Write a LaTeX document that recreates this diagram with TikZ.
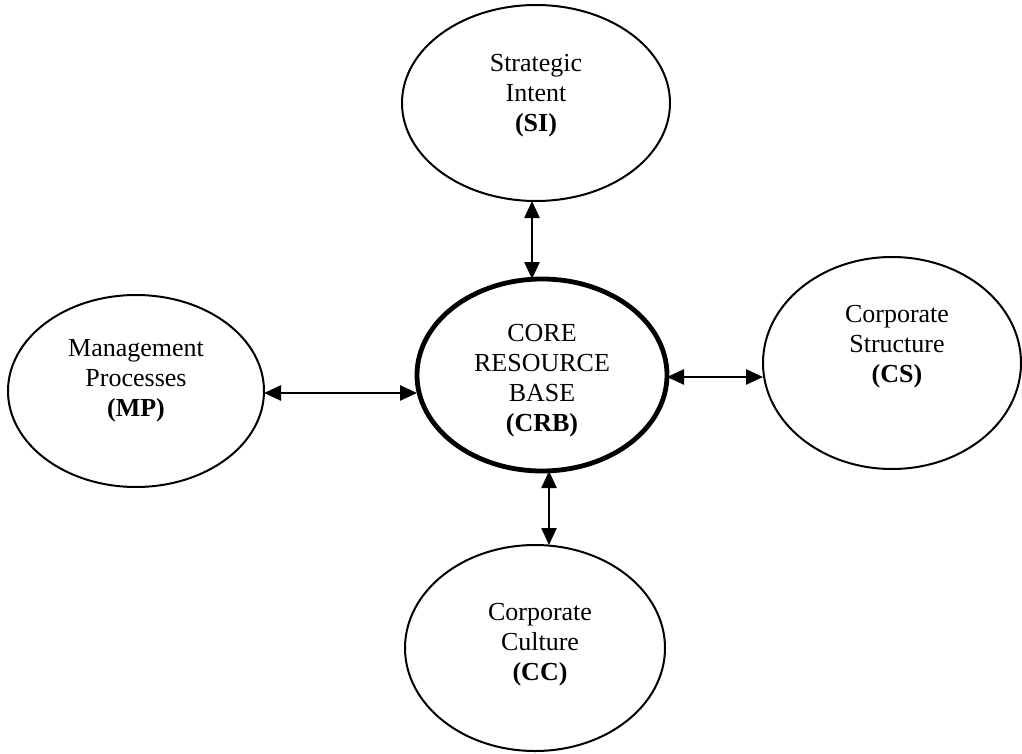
\documentclass[tikz,border=0pt]{standalone}
\usepackage{fontspec}
\setmainfont{Liberation Serif}
\usetikzlibrary{shapes.geometric,arrows.meta}

\begin{document}
\begin{tikzpicture}[x=1pt,y=-1pt,
    oval/.style={draw=black, ellipse, line width=2pt, inner sep=0pt, outer sep=0pt},
    core/.style={oval, line width=4.8pt},
    lbl/.style={align=center, inner sep=0pt, font=\fontsize{26}{30}\selectfont},
    link/.style={line width=2.5pt, {Triangle[length=17pt,width=15pt]}-{Triangle[length=17pt,width=15pt]}}]

  \useasboundingbox (0,0) rectangle (1022,754);

  % the five ovals
  \node[oval, minimum width=268pt, minimum height=196pt] (si)  at (536,103) {};
  \node[oval, minimum width=256pt, minimum height=192pt] (mp)  at (136,391) {};
  \node[core, minimum width=250pt, minimum height=192pt] (crb) at (542,375) {};
  \node[oval, minimum width=258pt, minimum height=212pt] (cs)  at (892,363) {};
  \node[oval, minimum width=260pt, minimum height=206pt] (cc)  at (535,648) {};

  % their captions
  \node[lbl] (si-t)  at ([yshift=7pt]si.center)             {Strategic\\Intent\\\textbf{(SI)}};
  \node[lbl] (mp-t)  at ([yshift=10pt]mp.center)            {Management\\Processes\\\textbf{(MP)}};
  \node[lbl] (crb-t) at ([yshift=-6pt]crb.center)           {CORE\\RESOURCE\\BASE\\\textbf{(CRB)}};
  \node[lbl] (cs-t)  at ([xshift=5pt,yshift=16pt]cs.center) {Corporate\\Structure\\\textbf{(CS)}};
  \node[lbl] (cc-t)  at ([xshift=5pt,yshift=3pt]cc.center)  {Corporate\\Culture\\\textbf{(CC)}};

  % two-way links to the core
  \draw[link] ([xshift=-4pt]si.south)  -- ([xshift=-10pt]crb.north);
  \draw[link] ([yshift=-2pt]mp.east)   -- ([yshift=-18pt]crb.west);
  \draw[link] ([yshift=-2pt]crb.east)  -- ([yshift=-14pt]cs.west);
  \draw[link] ([xshift=7pt]crb.south)  -- ([xshift=14pt]cc.north);
\end{tikzpicture}
\end{document}
